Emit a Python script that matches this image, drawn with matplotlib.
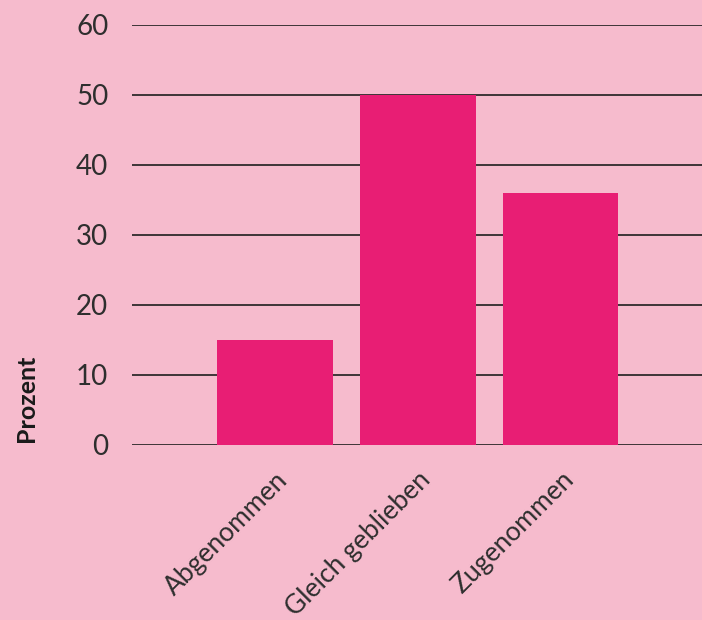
import matplotlib as mpl

mpl.use('Agg')
import matplotlib.pyplot as plt

# values
categories = ["Abgenommen", "Gleich geblieben", "Zugenommen"]
values = [15, 50, 36]
yticks = [0, 10, 20, 30, 40, 50, 60]

bg = '#F6BBCD'
bar_color = '#E81E74'
text_color = '#2e2e2e'

plt.rcParams['font.family'] = ['Lato', 'DejaVu Sans']

fig = plt.figure(figsize=(7.02, 6.2), dpi=100, facecolor=bg)
ax = fig.add_axes([0.188, 0.2823, 0.812, 0.6774])
ax.set_facecolor(bg)

x = list(range(len(categories)))
ax.bar(x, values, width=0.81, color=bar_color, zorder=2)

ax.set_ylim(0, 60)
ax.set_xlim(-1.0, 2.99)
ax.set_yticks(yticks)
ax.yaxis.grid(True, color='#1e1e1e', linewidth=1.2, zorder=0)
ax.set_axisbelow(True)
for s in ax.spines.values():
    s.set_visible(False)

ax.tick_params(axis='y', length=0, pad=17, labelsize=20, labelcolor=text_color)
ax.tick_params(axis='x', length=0, pad=16, labelsize=19, labelcolor=text_color)
ax.set_xticks(x)
ax.set_xticklabels(categories, rotation=45, ha='right', rotation_mode='anchor')

fig.text(27 / 702, 1 - 398 / 620, "Prozent", rotation=90, fontsize=18,
         fontweight='bold', color='#1a1a1a', ha='center', va='center')

fig.savefig('out.png', dpi=100, facecolor=bg)
